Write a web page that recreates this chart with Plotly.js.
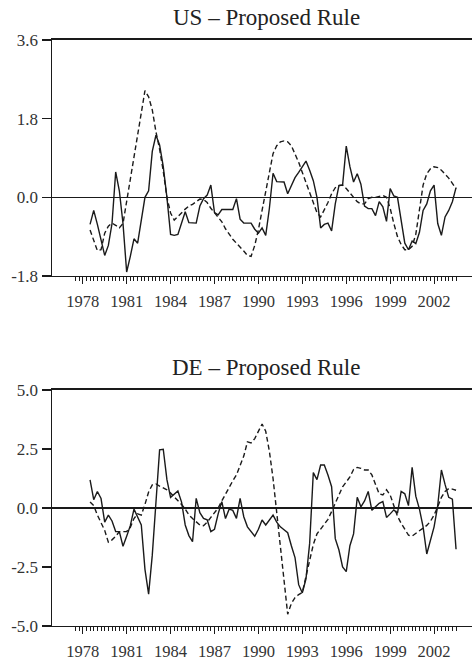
<!DOCTYPE html>
<html>
<head>
<meta charset="utf-8">
<script src="https://cdn.plot.ly/plotly-3.0.1.min.js"></script>
<style>html,body{margin:0;padding:0;background:#fff;}#chart{width:472px;height:661px;}</style>
</head>
<body>
<div id="chart"></div>
<script>
// Quarterly observations, 1978Q3 .. 2003Q3
var START_YEAR = 1978.5;
var N_OBS = 101;

var usActual = [
 -0.62,-0.30,-0.62,-1.00,-1.33,-1.10,-0.60,0.58,0.15,-0.60,
 -1.71,-1.35,-0.95,-1.05,-0.50,0.00,0.15,1.05,1.42,1.20,
 0.70,0.00,-0.85,-0.87,-0.85,-0.60,-0.33,-0.58,-0.59,-0.59,
 -0.20,-0.03,0.05,0.28,-0.35,-0.40,-0.28,-0.28,-0.28,-0.28,
 -0.03,-0.50,-0.59,-0.59,-0.59,-0.73,-0.82,-0.70,-0.87,-0.25,
 0.55,0.36,0.35,0.35,0.08,0.25,0.45,0.57,0.70,0.83,
 0.62,0.38,0.00,-0.70,-0.62,-0.59,-0.77,-0.15,0.27,0.28,
 1.17,0.70,0.35,0.54,0.30,-0.20,-0.26,-0.26,-0.42,-0.10,
 -0.22,-0.55,0.20,0.03,0.00,-0.50,-1.05,-1.20,-1.00,-1.06,
 -0.80,-0.30,-0.15,0.15,0.28,-0.60,-0.87,-0.45,-0.30,-0.10,0.22
];
var usProposed = [
 -0.75,-1.00,-1.22,-1.20,-0.82,-0.66,-0.59,-0.64,-0.70,-0.60,
 -0.10,0.45,0.95,1.45,1.90,2.44,2.30,2.00,1.50,1.10,
 0.60,0.00,-0.36,-0.52,-0.44,-0.35,-0.27,-0.20,-0.16,-0.10,
 -0.04,-0.05,-0.12,-0.25,-0.35,-0.46,-0.56,-0.72,-0.85,-0.96,
 -1.05,-1.13,-1.23,-1.33,-1.35,-1.10,-0.74,-0.30,0.13,0.60,
 1.00,1.18,1.27,1.29,1.27,1.18,1.00,0.80,0.57,0.34,
 0.08,-0.12,-0.35,-0.45,-0.30,-0.12,0.08,0.22,0.27,0.28,
 0.20,0.10,-0.01,-0.10,-0.15,-0.15,-0.03,0.00,0.00,0.02,
 0.04,0.00,-0.25,-0.60,-0.90,-1.08,-1.20,-1.20,-1.12,-0.85,
 -0.30,0.28,0.54,0.65,0.70,0.68,0.62,0.53,0.44,0.32,0.20
];
var deActual = [
 1.19,0.35,0.70,0.40,-0.60,-0.30,-0.55,-1.00,-1.00,-1.62,
 -1.20,-0.75,-0.05,-0.40,-0.72,-2.60,-3.65,-2.00,0.30,2.46,
 2.49,1.20,0.45,0.60,0.72,0.25,-0.72,-1.17,-1.43,0.41,
 -0.20,-0.44,-0.50,-1.00,-0.90,-0.25,0.27,-0.45,-0.05,-0.10,
 -0.44,0.41,-0.37,-0.80,-1.00,-1.20,-0.90,-0.51,-0.72,-0.50,
 -0.30,-0.60,-0.80,-0.92,-1.05,-1.60,-2.10,-3.25,-3.60,-3.00,
 -1.50,1.50,1.20,1.82,1.82,1.40,0.90,-1.30,-1.78,-2.50,
 -2.70,-1.60,-1.10,0.45,0.05,0.30,0.70,-0.10,0.05,0.20,
 0.27,-0.40,-0.25,-0.08,-0.22,0.70,0.60,0.10,1.72,0.50,
 -0.05,-0.80,-1.95,-1.40,-0.80,0.10,1.61,1.00,0.45,0.37,-1.75
];
var deProposed = [
 0.25,0.10,-0.30,-0.60,-0.95,-1.45,-1.35,-1.20,-1.00,-1.00,
 -1.00,-0.82,-0.45,-0.25,-0.30,0.15,0.68,0.98,1.02,0.93,
 0.85,0.77,0.63,0.47,0.32,0.15,-0.05,-0.29,-0.45,-0.60,
 -0.72,-0.75,-0.60,-0.40,-0.20,0.00,0.30,0.60,0.90,1.15,
 1.40,1.80,2.20,2.80,2.76,2.94,3.24,3.56,3.25,2.40,
 1.25,-0.20,-1.55,-2.90,-4.50,-4.05,-3.80,-3.67,-3.58,-2.90,
 -2.20,-1.55,-1.10,-0.90,-0.70,-0.48,-0.15,0.20,0.55,0.90,
 1.10,1.32,1.63,1.72,1.68,1.61,1.61,1.40,1.00,0.60,
 0.55,0.77,0.55,0.05,-0.35,-0.65,-0.90,-1.15,-1.19,-1.07,
 -0.95,-0.85,-0.74,-0.57,-0.30,0.06,0.45,0.70,0.82,0.80,0.75
];

var usTickVals = [-1.8, 0, 1.8, 3.6];
var usTickText = ["-1.8", "0.0", "1.8", "3.6"];
var deTickVals = [-5, -2.5, 0, 2.5, 5];
var deTickText = ["-5.0", "-2.5", "0.0", "2.5", "5.0"];
var yearLabels = ["1978","1981","1984","1987","1990","1993","1996","1999","2002"];
var titles = ["US \u2013 Proposed Rule", "DE \u2013 Proposed Rule"];

var t = [];
for (var i = 0; i < N_OBS; i++) t.push(START_YEAR + i * 0.25);

var majorVals = [], majorText = [];
for (var y = 1978; y <= 2003; y++) {
  majorVals.push(y);
  majorText.push(yearLabels.indexOf(String(y)) >= 0 ? String(y) : "");
}
var minorVals = [];
for (var q = 1977.5; q <= 2003.5001; q += 0.25) minorVals.push(q);

var ink = '#1a1a1a';
function tr(yv, dash, xa, ya) {
  return {x: t, y: yv, xaxis: xa, yaxis: ya, type: 'scatter', mode: 'lines',
    line: {color: ink, width: 1.4, dash: dash}, hoverinfo: 'skip'};
}
var data = [
  tr(usProposed, '5px,3px', 'x', 'y'),
  tr(usActual, 'solid', 'x', 'y'),
  tr(deProposed, '5px,3px', 'x2', 'y2'),
  tr(deActual, 'solid', 'x2', 'y2')
];

var font = 'Liberation Serif, Times New Roman, serif';
function xax(anchor) {
  return {anchor: anchor, domain: [0, 1], range: [1975.9, 2004.59],
    showline: true, linecolor: ink, linewidth: 1.5, mirror: true,
    ticks: 'outside', ticklen: 7, tickwidth: 1, tickcolor: ink,
    tickmode: 'array', tickvals: majorVals, ticktext: majorText,
    ticklabelstandoff: 3,
    showgrid: false, zeroline: false,
    tickfont: {family: font, size: 16.5, color: '#333'},
    minor: {tickmode: 'array', tickvals: minorVals, ticks: 'outside', ticklen: 4,
      tickwidth: 1, tickcolor: ink, showgrid: false}};
}
function yax(anchor, dom, rng, tv, tt) {
  return {anchor: anchor, domain: dom, range: rng,
    showline: true, linecolor: ink, linewidth: 1.5,
    ticks: 'outside', ticklen: 9, tickwidth: 1.2, tickcolor: ink,
    tickmode: 'array', tickvals: tv, ticktext: tt,
    showgrid: false, zeroline: true, zerolinecolor: ink, zerolinewidth: 1.2,
    tickfont: {family: font, size: 17, color: '#333'}};
}

var layout = {
  width: 472, height: 661,
  margin: {l: 52, r: 0, t: 0, b: 0},
  paper_bgcolor: '#fff', plot_bgcolor: '#fff',
  showlegend: false,
  font: {family: font, size: 17, color: '#333'},
  xaxis: xax('y'),
  yaxis: yax('x', [0.5825, 0.9395], [-1.8, 3.6], usTickVals, usTickText),
  xaxis2: xax('y2'),
  yaxis2: yax('x2', [0.0530, 0.4100], [-5, 5], deTickVals, deTickText),
  annotations: [
    {text: titles[0], xref: 'paper', yref: 'paper', x: 0.51, y: 0.9728,
     xanchor: 'center', yanchor: 'middle', showarrow: false,
     font: {family: font, size: 23, color: '#222'}},
    {text: titles[1], xref: 'paper', yref: 'paper', x: 0.51, y: 0.4433,
     xanchor: 'center', yanchor: 'middle', showarrow: false,
     font: {family: font, size: 23, color: '#222'}}
  ]
};

Plotly.newPlot('chart', data, layout, {staticPlot: true, displayModeBar: false});
</script>
</body>
</html>
